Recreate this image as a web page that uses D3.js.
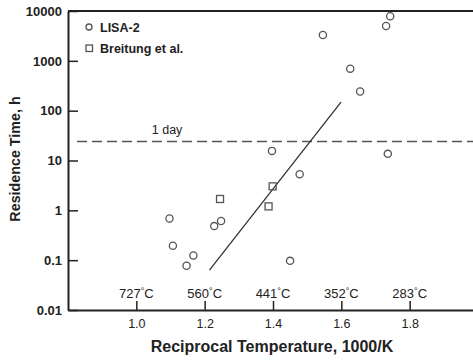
<!DOCTYPE html>
<html><head><meta charset="utf-8">
<script src="https://cdn.jsdelivr.net/npm/d3@7"></script>
<style>
body{margin:0;background:#fff;}
svg{display:block;font-family:"Liberation Sans",Arial,sans-serif;}
</style></head>
<body><svg id="c" width="473" height="361"></svg>
<script>
const lisaX = [1.546,1.626,1.655,1.731,1.743,1.397,1.736,1.478,1.097,1.107,1.147,1.167,1.228,1.248,1.450];
const lisaY = [3300,697,243,5000,7850,15.6,13.6,5.3,0.687,0.194,0.077,0.124,0.483,0.61,0.097];
const breitX = [1.245,1.399,1.387];
const breitY = [1.69,3.03,1.2];
const fitX = [1.214,1.599];
const fitY = [0.063,148];
const dayValue = 24;
const yTicks = [0.01,0.1,1,10,100,1000,10000];
const yTickLabels = ["0.01","0.1","1","10","100","1000","10000"];
const xTicks = [1.0,1.2,1.4,1.6,1.8];
const xTickLabels = ["1.0","1.2","1.4","1.6","1.8"];
const tempLabels = ["727","560","441","352","283"];

const svg = d3.select("#c");
const ink = "#222";
const x = d3.scaleLinear().domain([0.8,2.0]).range([68,478]);
const y = d3.scaleLog().domain([0.01,10000]).range([310,11]);

// top border
svg.append("line").attr("x1",x(0.8)).attr("x2",x(2.0)).attr("y1",y(10000)).attr("y2",y(10000))
  .attr("stroke",ink).attr("stroke-width",2);

const ya = svg.append("g").attr("transform",`translate(${x(0.8)},0)`)
  .call(d3.axisLeft(y).tickValues(yTicks).tickFormat((d,i)=>yTickLabels[i]).tickSize(-10).tickSizeOuter(0).tickPadding(6));
ya.select(".domain").attr("stroke",ink).attr("stroke-width",2);
ya.selectAll(".tick line").attr("stroke",ink).attr("stroke-width",1.5);
ya.selectAll(".tick text").attr("fill",ink).attr("font-size",13).attr("font-weight","bold").attr("font-family","Liberation Sans, Arial, sans-serif");

const xa = svg.append("g").attr("transform",`translate(0,${y(0.01)})`)
  .call(d3.axisBottom(x).tickValues(xTicks).tickFormat((d,i)=>xTickLabels[i]).tickSize(-9).tickSizeOuter(0).tickPadding(9));
xa.select(".domain").attr("stroke",ink).attr("stroke-width",2);
xa.selectAll(".tick line").attr("stroke",ink).attr("stroke-width",1.5);
xa.selectAll(".tick text").attr("fill",ink).attr("font-size",12.5).attr("font-family","Liberation Sans, Arial, sans-serif");

// temperature labels
const tl = svg.append("g").selectAll("text").data(xTicks).join("text")
  .attr("x",d=>x(d)).attr("y",y(0.01)-12).attr("text-anchor","middle")
  .attr("font-size",13).attr("fill",ink);
tl.each(function(d,i){
  const t = d3.select(this);
  t.append("tspan").text(tempLabels[i]);
  t.append("tspan").text("°").attr("font-size",9).attr("dy",-4);
  t.append("tspan").text("C").attr("dy",4);
});

// 1 day dashed line
svg.append("line").attr("x1",x(0.8)+9).attr("x2",x(2.0)).attr("y1",y(dayValue)).attr("y2",y(dayValue))
  .attr("stroke","#555").attr("stroke-width",1.5).attr("stroke-dasharray","10,5");
svg.append("text").attr("x",x(1.09)).attr("y",y(dayValue)-8).attr("text-anchor","middle")
  .attr("font-size",12.5).attr("fill",ink).text("1 day");

// fit line
svg.append("path").datum(fitX.map((d,i)=>[d,fitY[i]]))
  .attr("d",d3.line().x(d=>x(d[0])).y(d=>y(d[1])))
  .attr("fill","none").attr("stroke","#333").attr("stroke-width",1.3);

// LISA-2 circles
svg.append("g").selectAll("circle").data(lisaX.map((d,i)=>[d,lisaY[i]])).join("circle")
  .attr("cx",d=>x(d[0])).attr("cy",d=>y(d[1])).attr("r",3.6)
  .attr("fill","none").attr("stroke","#555").attr("stroke-width",1.3);

// Breitung squares
svg.append("g").selectAll("rect").data(breitX.map((d,i)=>[d,breitY[i]])).join("rect")
  .attr("x",d=>x(d[0])-3.5).attr("y",d=>y(d[1])-3.5).attr("width",7).attr("height",7)
  .attr("fill","none").attr("stroke","#555").attr("stroke-width",1.3);

// legend
svg.append("circle").attr("cx",89).attr("cy",27).attr("r",3).attr("fill","none").attr("stroke","#555").attr("stroke-width",1.3);
svg.append("text").attr("x",100).attr("y",32).attr("font-size",12.5).attr("font-weight","bold").attr("fill",ink).text("LISA-2");
svg.append("rect").attr("x",86).attr("y",45).attr("width",6.5).attr("height",6.5).attr("fill","none").attr("stroke","#555").attr("stroke-width",1.3);
svg.append("text").attr("x",100).attr("y",53).attr("font-size",12.5).attr("font-weight","bold").attr("fill",ink).text("Breitung et al.");

// axis titles
svg.append("text").attr("x",272).attr("y",352).attr("text-anchor","middle")
  .attr("font-size",16).attr("font-weight","bold").attr("fill",ink).text("Reciprocal Temperature, 1000/K");
svg.append("text").attr("transform","translate(20,159) rotate(-90)").attr("text-anchor","middle")
  .attr("font-size",14.3).attr("font-weight","bold").attr("fill",ink).text("Residence Time, h");
</script></body></html>
